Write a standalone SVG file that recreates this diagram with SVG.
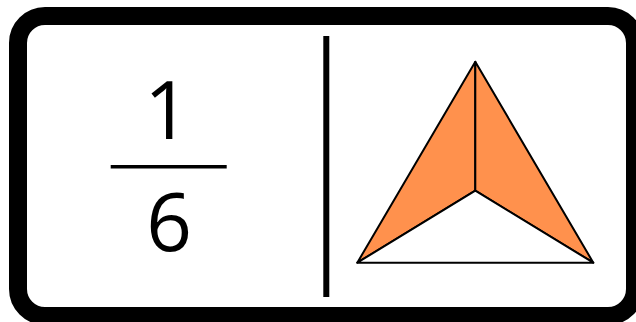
<svg xmlns="http://www.w3.org/2000/svg" width="636" height="322" viewBox="0 0 636 322">
<style>
.num{font-family:"Open Sans","Liberation Sans",sans-serif;font-size:80px;fill:#000;text-anchor:middle}
.tri{stroke:#000;stroke-width:2;stroke-linejoin:round}
</style>
<rect x="0" y="0" width="636" height="322" fill="#fff"/>
<g id="frame">
<rect x="18" y="16" width="617" height="300" rx="27" ry="27" fill="#fff" stroke="#000" stroke-width="18"/>
<line x1="326.3" y1="36" x2="326.3" y2="297" stroke="#000" stroke-width="6"/>
</g>
<g id="fraction">
<text class="num" x="167" y="139">1</text>
<line x1="110.7" y1="166.7" x2="226.7" y2="166.7" stroke="#000" stroke-width="3.5"/>
<text class="num" x="169" y="251">6</text>
</g>
<g id="triangle">
<polygon class="tri" points="475.3,61.7 357.3,262.7 475.3,190.7" fill="#FF914D"/>
<polygon class="tri" points="475.3,61.7 593.3,262.7 475.3,190.7" fill="#FF914D"/>
<polygon class="tri" points="357.3,262.7 593.3,262.7 475.3,190.7" fill="#fff"/>
</g>
</svg>
